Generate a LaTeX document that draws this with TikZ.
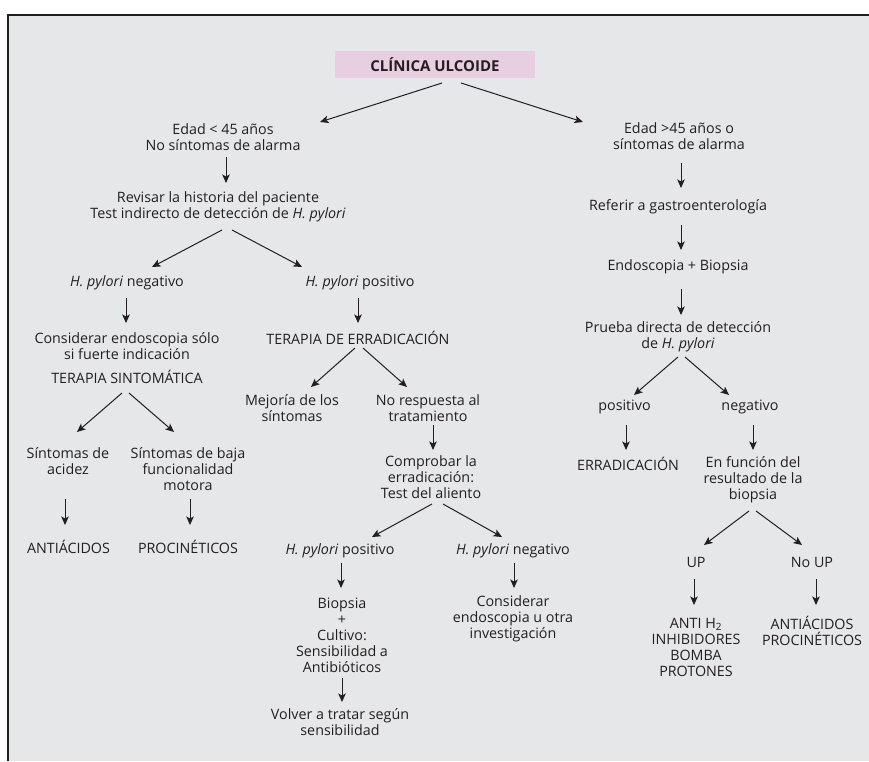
\documentclass[tikz,border=0pt]{standalone}
\usepackage{fontspec}
\setmainfont{Open Sans}
\usetikzlibrary{calc,arrows.meta}
\definecolor{bgray}{HTML}{E6E7E8}
\definecolor{rosa}{HTML}{E8CEE1}
\definecolor{ink}{HTML}{231F20}
\tikzset{
  txt/.style={align=center,inner sep=0pt,text=ink,font=\fontsize{14.3}{16}\selectfont},
  arr/.style={-{Stealth[length=8.5pt,width=7.5pt,inset=2pt]},draw=ink,line width=1pt},
}
\begin{document}
\begin{tikzpicture}[x=1pt,y=-1pt]
\useasboundingbox (0,0) rectangle (869,761);
\fill[bgray] (8,15) rectangle (869,761);
\draw[ink,line width=2.4pt] (8,761) -- (8,15) -- (869,15);

\node[txt,fill=rosa,minimum width=200pt,minimum height=27pt,font=\fontsize{15}{16}\selectfont\bfseries] (clin) at (435,64.5) {CLÍNICA ULCOIDE};

\node[txt] (menor) at (223,137) {Edad < 45 años\\No síntomas de alarma};
\node[txt] (mayor) at (679,136.5) {Edad >45 años o\\síntomas de alarma};
\node[txt] (hist) at (218,207) {Revisar la historia del paciente\\Test indirecto de detección de \textit{H. pylori}};
\node[txt] (hpneg) at (127,283) {\textit{H. pylori} negativo};
\node[txt] (hppos) at (360,283) {\textit{H. pylori} positivo};
\node[txt] (endsolo) at (127,346.5) {Considerar endoscopia sólo\\si fuerte indicación};
\node[txt] (tsint) at (127,377) {TERAPIA SINTOMÁTICA};
\node[txt] (acidez) at (68,461) {Síntomas de\\acidez};
\node[txt] (motora) at (188,469) {Síntomas de baja\\funcionalidad\\motora};
\node[txt] (antiac) at (68.5,547) {ANTIÁCIDOS};
\node[txt] (procin) at (188,547) {PROCINÉTICOS};
\node[txt] (terad) at (358,338) {TERAPIA DE ERRADICACIÓN};
\node[txt] (mejoria) at (292,408) {Mejoría de los\\síntomas};
\node[txt] (norespu) at (428,408) {No respuesta al\\tratamiento};
\node[txt] (compr) at (431,477) {Comprobar la\\erradicación:\\Test del aliento};
\node[txt] (alpos) at (340,551) {\textit{H. pylori} positivo};
\node[txt] (alneg) at (513,551) {\textit{H. pylori} negativo};
\node[txt] (cultivo) at (342,635) {Biopsia\\+\\Cultivo:\\Sensibilidad a\\Antibióticos};
\node[txt] (volver) at (340,722) {Volver a tratar según\\sensibilidad};
\node[txt] (otra) at (513,619) {Considerar\\endoscopia u otra\\investigación};
\node[txt] (refer) at (678,207) {Referir a gastroenterología};
\node[txt] (endo) at (678,267) {Endoscopia + Biopsia};
\node[txt] (prueba) at (678,336.5) {Prueba directa de detección\\de \textit{H. pylori}};
\node[txt] (bpos) at (624.5,407) {positivo};
\node[txt] (bneg) at (750,407) {negativo};
\node[txt] (errad) at (628,464) {ERRADICACIÓN};
\node[txt] (funcion) at (753,480) {En función del\\resultado de la\\biopsia};
\node[txt] (up) at (696,562) {UP};
\node[txt] (noup) at (812,562) {No UP};
\node[txt] (antih) at (696,647) {ANTI H\textsubscript{2}\\INHIBIDORES\\BOMBA\\PROTONES};
\node[txt] (antiproc) at (812,631) {ANTIÁCIDOS\\PROCINÉTICOS};

\draw[arr] ($(clin)+(7,18.5)$) -- ($(menor)+(97,-15)$);
\draw[arr] ($(clin)+(26,18.5)$) -- ($(mayor)+(-96,-14.5)$);
\draw[arr] ($(menor)+(3,20)$) -- ($(hist)+(8,-24)$);
\draw[arr] ($(hist)+(4,23)$) -- ($(hpneg)+(25,-16)$);
\draw[arr] ($(hist)+(14,23)$) -- ($(hppos)+(-58,-16)$);
\draw[arr] ($(hpneg)+(-1,15)$) -- ($(endsolo)+(-1,-23.5)$);
\draw[arr] ($(hppos)+(-2,15)$) -- ($(terad)+(0,-15)$);
\draw[arr] ($(tsint)+(-5,16)$) -- ($(acidez)+(9,-29)$);
\draw[arr] ($(tsint)+(2,16)$) -- ($(motora)+(-14,-37)$);
\draw[arr] ($(acidez)+(-3,38)$) -- ($(antiac)+(-3.5,-22)$);
\draw[arr] ($(motora)+(2,30)$) -- ($(procin)+(2,-22)$);
\draw[arr] ($(terad)+(-3,10)$) -- ($(mejoria)+(19,-21)$);
\draw[arr] ($(terad)+(5,10)$) -- ($(norespu)+(-21,-21)$);
\draw[arr] ($(norespu)+(5,17)$) -- ($(compr)+(2,-27)$);
\draw[arr] ($(compr)+(1,27)$) -- ($(alpos)+(32,-14)$);
\draw[arr] ($(compr)+(12,27)$) -- ($(alneg)+(-11,-14)$);
\draw[arr] ($(alpos)+(1,12)$) -- ($(cultivo)+(-1,-47)$);
\draw[arr] ($(cultivo)+(0,43)$) -- ($(volver)+(2,-20)$);
\draw[arr] ($(alneg)+(1,12)$) -- ($(otra)+(1,-31)$);
\draw[arr] ($(mayor)+(2,26.5)$) -- ($(refer)+(3,-19)$);
\draw[arr] ($(refer)+(3,18)$) -- ($(endo)+(3,-17)$);
\draw[arr] ($(endo)+(3,22)$) -- ($(prueba)+(3,-21.5)$);
\draw[arr] ($(prueba)+(0,20.5)$) -- ($(bpos)+(9.5,-12)$);
\draw[arr] ($(prueba)+(7,20.5)$) -- ($(bneg)+(-21,-12)$);
\draw[arr] ($(bpos)+(1.5,18)$) -- ($(errad)+(-2,-14)$);
\draw[arr] ($(bneg)+(3,18)$) -- ($(funcion)+(0,-30)$);
\draw[arr] ($(funcion)+(-4,31)$) -- ($(up)+(8,-17)$);
\draw[arr] ($(funcion)+(3,31)$) -- ($(noup)+(-10,-17)$);
\draw[arr] ($(up)+(-2,17)$) -- ($(antih)+(-2,-42)$);
\draw[arr] ($(noup)+(4,17)$) -- ($(antiproc)+(4,-26)$);
\end{tikzpicture}
\end{document}
